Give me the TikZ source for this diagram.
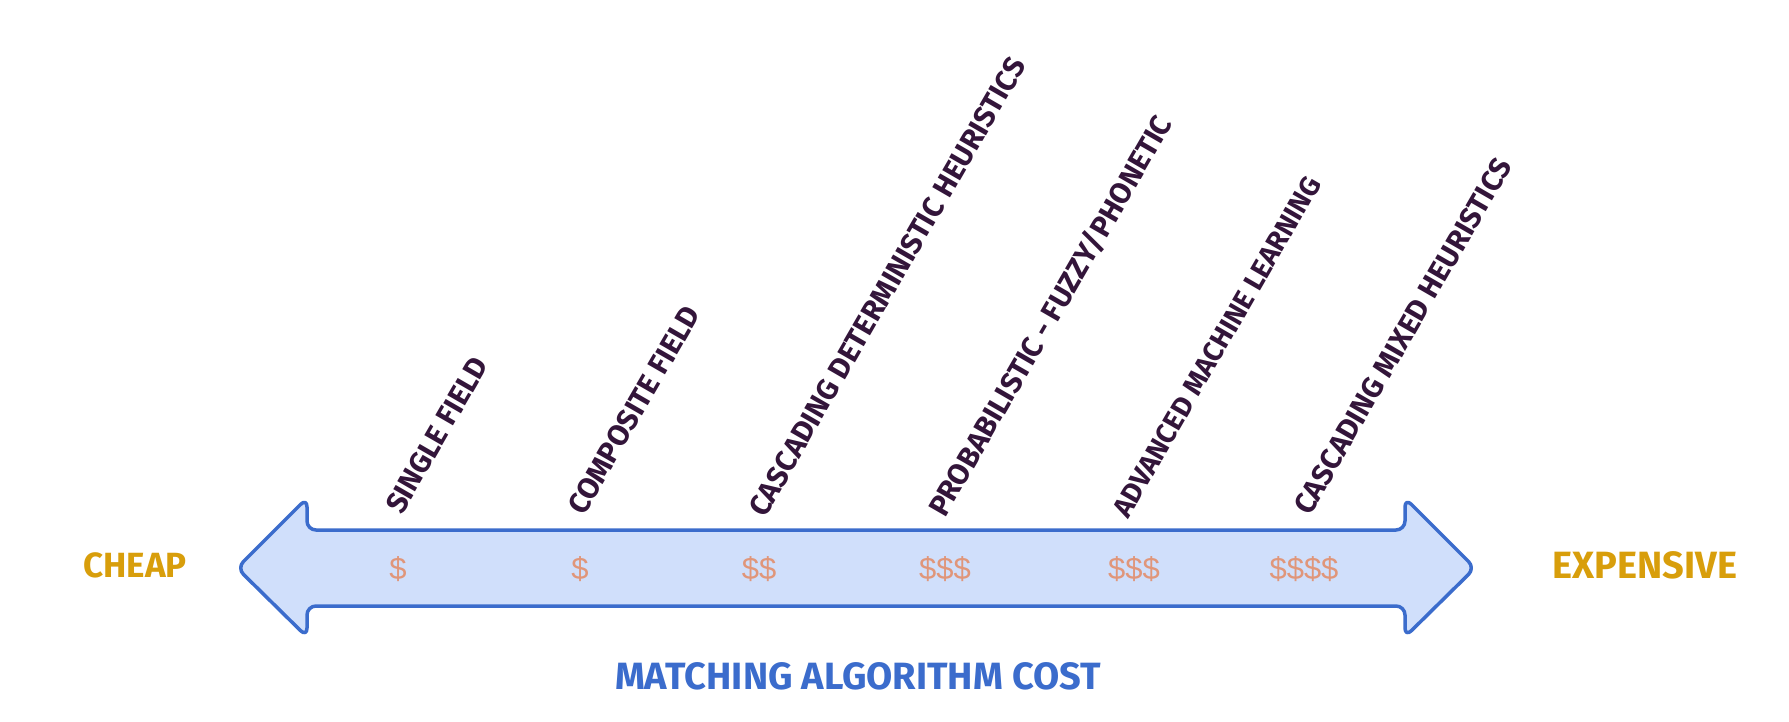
\documentclass[tikz,border=0pt]{standalone}
\usepackage{fontspec}
\newfontfamily\handfont{Fira Sans}
\newfontfamily\dollarfont{Liberation Sans}
\definecolor{arrowline}{HTML}{3B6CCC}
\definecolor{arrowfill}{HTML}{D0DFFB}
\definecolor{labelcol}{HTML}{33153A}
\definecolor{goldcol}{HTML}{D89E0B}
\definecolor{dollarcol}{HTML}{E0967A}
\tikzset{
  costlabel/.style={anchor=base west, rotate=60, inner sep=0pt, text=labelcol,
    font=\handfont\bfseries\fontsize{29.5}{32}\selectfont},
  endlabel/.style={inner sep=0pt, text=goldcol, font=\handfont\bfseries\fontsize{38}{40}\selectfont},
  dollar/.style={inner sep=0pt, text=dollarcol, font=\dollarfont\fontsize{31}{34}\selectfont},
  bigarrow/.style={draw=arrowline, fill=arrowfill, line width=3.5pt, rounded corners=9pt, line join=round},
}
\begin{document}
\begin{tikzpicture}[x=1pt,y=-1pt]
\useasboundingbox (0,0) rectangle (1789,722);
\fill[white] (0,0) rectangle (1789,722);
% double arrow
\draw[bigarrow] (237,568) -- (307,498) -- (307,530) -- (1405,530) -- (1405,498)
  -- (1475,568) -- (1405,637) -- (1405,606) -- (307,606) -- (307,637) -- cycle;
% dollar signs
\node[dollar] (d1) at (398,569) {\$};
\node[dollar] (d2) at (580,569) {\$};
\node[dollar] (d3) at (759,569) {\$\$};
\node[dollar] (d4) at (945,569) {\$\$\$};
\node[dollar] (d5) at (1134,569) {\$\$\$};
\node[dollar] (d6) at (1304,569) {\$\$\$\$};
% rotated labels
\node[costlabel] (l1) at (402,516) {SINGLE FIELD};
\node[costlabel] (l2) at (584,517) {COMPOSITE FIELD};
\node[costlabel] (l3) at (765,519) {CASCADING DETERMINISTIC HEURISTICS};
\node[costlabel] (l4) at (945,519) {PROBABILISTIC - FUZZY/PHONETIC};
\node[costlabel, font=\handfont\bfseries\fontsize{28}{30}\selectfont] (l5) at (1128,520) {ADVANCED MACHINE LEARNING};
\node[costlabel] (l6) at (1310,517) {CASCADING MIXED HEURISTICS};
% end labels
\node[endlabel, font=\handfont\bfseries\fontsize{35}{38}\selectfont] (cheap) at (135,565) {CHEAP};
\node[endlabel] (expensive) at (1645,565) {EXPENSIVE};
\node[endlabel, text=arrowline] (title) at (858,676) {MATCHING ALGORITHM COST};
\end{tikzpicture}
\end{document}
